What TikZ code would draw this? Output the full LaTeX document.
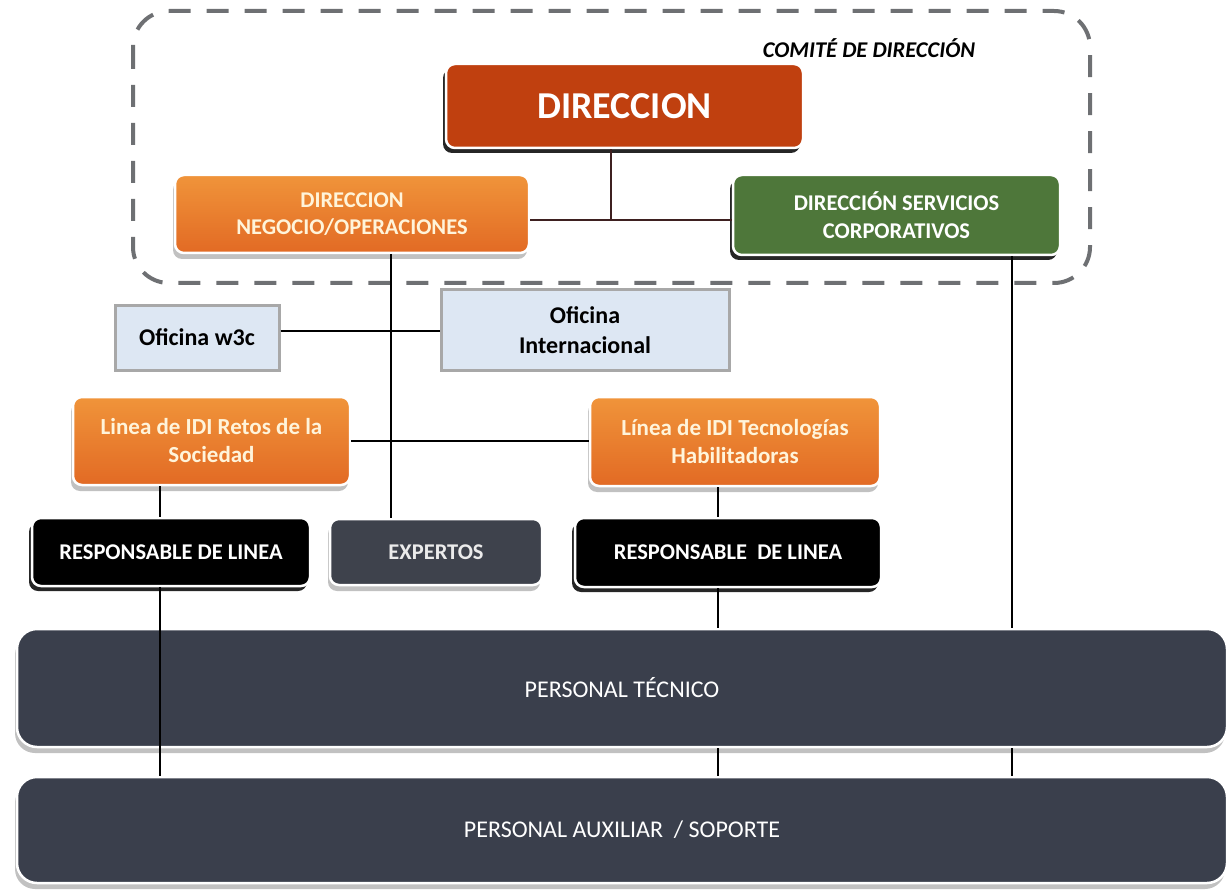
\documentclass[tikz,border=0pt]{standalone}
\usepackage{fontspec}
\setmainfont{Carlito}
\usetikzlibrary{shadows}

\definecolor{dirred}{RGB}{192,64,15}
\definecolor{orangetop}{RGB}{240,148,58}
\definecolor{orangemid}{RGB}{232,122,48}
\definecolor{orangebot}{RGB}{226,106,36}
\definecolor{servgreen}{RGB}{78,119,58}
\definecolor{oficinablue}{RGB}{221,231,243}
\definecolor{oficinagray}{RGB}{168,168,168}
\definecolor{slate}{RGB}{58,63,76}
\definecolor{expertgray}{RGB}{62,66,76}
\definecolor{framegray}{RGB}{110,112,115}
\definecolor{linkbrown}{RGB}{62,32,32}
\definecolor{cream}{RGB}{255,244,218}

\tikzset{
	box/.style={rounded corners=9pt, inner sep=0pt, align=center, draw=white, line width=2.5pt},
	darkshadow/.style={drop shadow={shadow xshift=-3pt, shadow yshift=-5pt, fill=black!85, opacity=1}},
	softshadow/.style={drop shadow={shadow xshift=-2pt, shadow yshift=-6pt, fill=gray!60, opacity=.8}},
	dirbox/.style={box, darkshadow, fill=dirred, text=white, font=\fontsize{38}{40}\selectfont\bfseries},
	orangebox/.style={box, softshadow, top color=orangetop, middle color=orangemid, bottom color=orangebot, text=cream, font=\fontsize{22.5}{27.5}\selectfont\bfseries},
	greenbox/.style={box, darkshadow, fill=servgreen, text=white, font=\fontsize{22.5}{28}\selectfont\bfseries},
	oficina/.style={draw=oficinagray, line width=3pt, fill=oficinablue, inner sep=0pt, align=center, font=\fontsize{24}{30}\selectfont\bfseries},
	respbox/.style={box, darkshadow, fill=black, text=white, font=\fontsize{22.5}{26}\selectfont\bfseries},
	expbox/.style={box, softshadow, fill=expertgray, text=black!8, font=\fontsize{22.5}{26}\selectfont\bfseries},
	personal/.style={box, rounded corners=20pt, softshadow, fill=slate, text=white, font=\fontsize{24}{26}\selectfont},
	link/.style={line width=1.6pt, draw=black},
	toplink/.style={line width=1.8pt, draw=linkbrown}
}

\begin{document}
\begin{tikzpicture}[x=1pt, y=-1pt]
		%%%%% START %%%%%
		\useasboundingbox (0,0) rectangle (1230,890);
		
		% comite de direccion
		\draw[line width=4pt, color=framegray, dash pattern=on 22pt off 16pt, rounded corners=36pt] (133,11) rectangle (1090,283);
		\node[font=\fontsize{22.5}{24}\selectfont\bfseries\itshape] (comite) at (869,48) {COMITÉ DE DIRECCIÓN};
		
		\node[dirbox, minimum width=357pt, minimum height=84pt] (dir) at (624.5,106) {DIRECCION};
		\node[orangebox, minimum width=354pt, minimum height=78pt] (neg) at (352,214) {DIRECCION\\NEGOCIO/OPERACIONES};
		\node[greenbox, minimum width=327pt, minimum height=80pt] (serv) at (896.5,215) {DIRECCIÓN SERVICIOS\\CORPORATIVOS};
		
		% oficinas
		\node[oficina, minimum width=164pt, minimum height=65pt] (w3c) at (197,337.5) {Oficina w3c};
		\node[oficina, minimum width=288pt, minimum height=80pt] (intl) at (585,330) {Oficina\\Internacional};
		
		% lineas de IDI
		\node[orangebox, font=\fontsize{23}{28}\selectfont\bfseries, minimum width=277pt, minimum height=88pt] (retos) at (211.5,441) {Linea de IDI Retos de la\\Sociedad};
		\node[orangebox, font=\fontsize{23}{28}\selectfont\bfseries, minimum width=290pt, minimum height=89pt] (tec) at (735,441.5) {Línea de IDI Tecnologías\\Habilitadoras};
		
		\node[respbox, minimum width=278pt, minimum height=68pt] (resp1) at (171,552) {RESPONSABLE DE LINEA};
		\node[expbox, minimum width=212pt, minimum height=66pt] (exp) at (436,552) {EXPERTOS};
		\node[respbox, minimum width=306pt, minimum height=69pt] (resp2) at (728,552.5) {RESPONSABLE\ \ DE LINEA};
		
		% personal
		\node[personal, minimum width=1210pt, minimum height=118pt] (tecnico) at (622,688) {PERSONAL TÉCNICO};
		\node[personal, minimum width=1210pt, minimum height=106pt] (aux) at (622,830) {PERSONAL AUXILIAR\ \ / SOPORTE};
		
		% conexiones
		\coordinate (jdir) at (611,220);
		\coordinate (negx) at (391,0);
		\coordinate (leftx) at (160,0);
		\coordinate (midx) at (718,0);
		\coordinate (rightx) at (1012,0);
		
		\draw[toplink] (dir.south -| jdir) -- (jdir);
		\draw[toplink] (neg.east |- jdir) -- (serv.west |- jdir);
		\draw[link] (neg.south -| negx) -- (exp.north -| negx);
		\draw[link] (w3c.east |- 0,331) -- (intl.west |- 0,331);
		\draw[link] (retos.east) -- (tec.west |- retos.east);
		
		\draw[link] (retos.south -| leftx) -- (resp1.north -| leftx);
		\draw[link] (tec.south -| midx) -- (resp2.north -| midx);
		
		\draw[link] (resp1.south -| leftx) -- (aux.north -| leftx);
		\draw[link] (resp2.south -| midx) -- (tecnico.north -| midx);
		\draw[link] (tecnico.south -| midx) -- (aux.north -| midx);
		\draw[link] (serv.south -| rightx) -- (tecnico.north -| rightx);
		\draw[link] (tecnico.south -| rightx) -- (aux.north -| rightx);
		%%%%% END %%%%%
\end{tikzpicture}
\end{document}
